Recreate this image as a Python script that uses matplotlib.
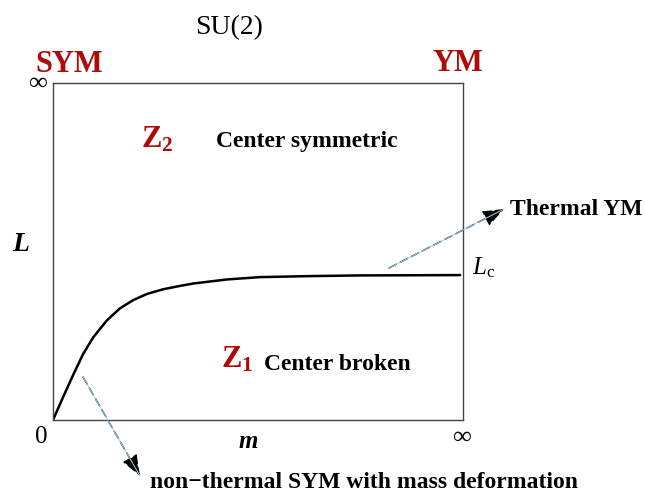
import matplotlib
matplotlib.use("Agg")
import matplotlib.pyplot as plt

plt.rcParams["font.family"] = ["Liberation Serif", "DejaVu Serif"]
plt.rcParams["mathtext.fontset"] = "custom"
plt.rcParams["mathtext.rm"] = "Liberation Serif"
plt.rcParams["mathtext.it"] = "Liberation Serif:italic"
plt.rcParams["mathtext.bf"] = "Liberation Serif:bold"

# boundary curve between the Z1 and Z2 phases (m from 0 to inf, L from 0 to inf)
m_vals = [0.0, 0.025, 0.050, 0.074, 0.098, 0.131, 0.163, 0.196, 0.229, 0.269,
          0.310, 0.342, 0.424, 0.505, 0.627, 0.749, 0.993]
L_vals = [0.0, 0.069, 0.136, 0.197, 0.245, 0.295, 0.331, 0.356, 0.374, 0.388,
          0.398, 0.405, 0.417, 0.424, 0.427, 0.429, 0.430]

red = "#ad0a0a"
W, H = 645, 492

fig = plt.figure(figsize=(W / 100, H / 100), dpi=100)
ax = fig.add_axes([53 / W, 1 - 420 / H, 410 / W, 337 / H])
ax.plot(m_vals, L_vals, color="black", linewidth=1.8, solid_joinstyle="round",
        solid_capstyle="round")
ax.set_xlim(0, 1)
ax.set_ylim(0, 1)
ax.set_xticks([])
ax.set_yticks([])
for s in ax.spines.values():
    s.set_color("#444444")
    s.set_linewidth(1.0)


def px(x, y):
    return (x / W, 1 - y / H)


def ftext(x, y, s, **kw):
    kw.setdefault("ha", "left")
    kw.setdefault("va", "baseline")
    fig.text(*px(x, y), s, **kw)


ftext(229, 34, "SU(2)", fontsize=20, ha="center")
ftext(35, 72, "SYM", fontsize=22, fontweight="bold", color=red)
ftext(433, 71, "YM", fontsize=22, fontweight="bold", color=red)
ftext(38, 84, "\u221e", fontsize=19, ha="center", va="center")
ftext(35, 443, "0", fontsize=18)
ftext(462, 438, "\u221e", fontsize=19, ha="center", va="center")
ftext(239, 448, "m", fontsize=18, fontweight="bold", style="italic")
ftext(12, 251, "L", fontsize=20, fontweight="bold", style="italic")
ftext(472, 274, r"$L_{\rm c}$", fontsize=18)

ftext(141, 147, r"$\mathbf{Z_2}$", fontsize=22, color=red)
ftext(216, 147, "Center symmetric", fontsize=17, fontweight="bold")
ftext(221, 368, r"$\mathbf{Z_1}$", fontsize=22, color=red)
ftext(264, 370, "Center broken", fontsize=17, fontweight="bold")
ftext(510, 215, "Thermal YM", fontsize=17, fontweight="bold")
ftext(150, 488, "non\u2212thermal SYM with mass deformation", fontsize=17,
      fontweight="bold")


def dashed_arrow(start, end):
    s = px(*start)
    e = px(*end)
    fig.add_artist(plt.Line2D([s[0], e[0]], [s[1], e[1]], color="#9dd3f2",
                              linewidth=0.7, transform=fig.transFigure))
    ax.annotate("", xy=e, xytext=s, xycoords="figure fraction",
                textcoords="figure fraction",
                arrowprops=dict(arrowstyle="-|>,head_length=0.65,head_width=0.25",
                                color="black", linewidth=1.0,
                                linestyle=(0, (6, 3)), mutation_scale=20,
                                shrinkA=0, shrinkB=0))


dashed_arrow((389, 268), (504, 209))
dashed_arrow((83, 377), (140, 476))

fig.savefig("out.png", dpi=100)
